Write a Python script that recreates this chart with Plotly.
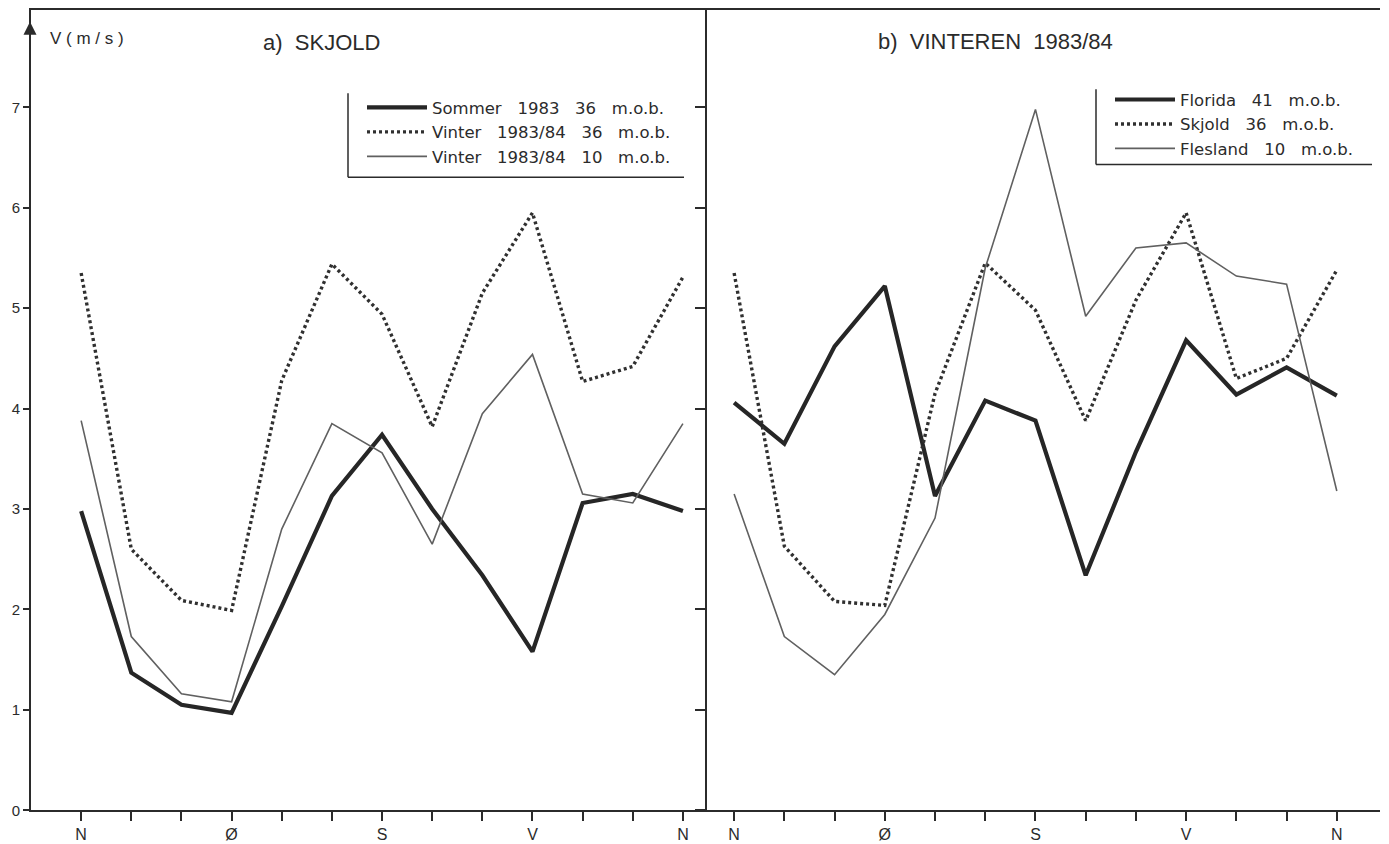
import plotly.graph_objects as go

# ---------------- data ----------------
directions = ["N", "", "", "Ø", "", "", "S", "", "", "V", "", "", "N"]
y_ticks = [0, 1, 2, 3, 4, 5, 6, 7]

# a) SKJOLD
sommer_1983_36 = [2.98, 1.37, 1.05, 0.97, 2.03, 3.13, 3.74, 3.00, 2.34, 1.58, 3.06, 3.15, 2.98]
vinter_8384_36 = [5.35, 2.60, 2.09, 1.99, 4.28, 5.44, 4.94, 3.82, 5.15, 5.95, 4.27, 4.42, 5.31]
vinter_8384_10 = [3.88, 1.73, 1.16, 1.08, 2.80, 3.85, 3.56, 2.65, 3.95, 4.54, 3.15, 3.06, 3.85]

# b) VINTEREN 1983/84
florida_41 = [4.06, 3.65, 4.62, 5.22, 3.13, 4.08, 3.88, 2.34, 3.57, 4.68, 4.14, 4.41, 4.13]
skjold_36 = [5.35, 2.63, 2.08, 2.04, 4.15, 5.45, 4.98, 3.88, 5.08, 5.95, 4.30, 4.50, 5.38]
flesland_10 = [3.15, 1.73, 1.35, 1.95, 2.91, 5.40, 6.98, 4.92, 5.60, 5.65, 5.32, 5.24, 3.18]

# page is 1389x844; the browser body adds an 8px margin left/top of the figure
PAGE_W, PAGE_H, BODY = 1389, 844, 8
W, H = PAGE_W - 2 * BODY, PAGE_H - BODY


def px(x):
    return (x - BODY) / W


def py(y):
    return 1 - (y - BODY) / H


FONT = "Liberation Sans"
LFONT = "DejaVu Sans"
INK = "#2b2b2b"
xpos = list(range(len(directions)))
SP = "&nbsp;&nbsp; "

thick = dict(color="#262626", width=4.2)
dotted = dict(color="#303030", width=3.4, dash="3px,3px")
thin = dict(color="#606060", width=1.6)

fig = go.Figure()
fig.add_trace(go.Scatter(x=xpos, y=sommer_1983_36, mode="lines", line=thick,
                         name=f"Sommer{SP}1983{SP}36{SP}m.o.b.", xaxis="x", yaxis="y", legend="legend"))
fig.add_trace(go.Scatter(x=xpos, y=vinter_8384_36, mode="lines", line=dotted,
                         name=f"Vinter{SP}1983/84{SP}36{SP}m.o.b.", xaxis="x", yaxis="y", legend="legend"))
fig.add_trace(go.Scatter(x=xpos, y=vinter_8384_10, mode="lines", line=thin,
                         name=f"Vinter{SP}1983/84{SP}10{SP}m.o.b.", xaxis="x", yaxis="y", legend="legend"))

fig.add_trace(go.Scatter(x=xpos, y=florida_41, mode="lines", line=thick,
                         name=f"Florida{SP}41{SP}m.o.b.", xaxis="x2", yaxis="y2", legend="legend2"))
fig.add_trace(go.Scatter(x=xpos, y=skjold_36, mode="lines", line=dotted,
                         name=f"Skjold{SP}36{SP}m.o.b.", xaxis="x2", yaxis="y2", legend="legend2"))
fig.add_trace(go.Scatter(x=xpos, y=flesland_10, mode="lines", line=thin,
                         name=f"Flesland{SP}10{SP}m.o.b.", xaxis="x2", yaxis="y2", legend="legend2"))

xtickfont = dict(family=FONT, size=16, color=INK)
ytickfont = dict(family=FONT, size=15, color=INK)
common_x = dict(tickmode="array", tickvals=xpos, ticktext=directions, ticks="outside",
                ticklen=9, tickwidth=1.5, tickcolor=INK, showline=True, linewidth=2,
                linecolor=INK, mirror=True, showgrid=False, zeroline=False,
                tickfont=xtickfont, fixedrange=True)
ydom = [py(818), py(10)]

fig.update_layout(
    width=W, height=H,
    margin=dict(l=0, r=0, t=0, b=0),
    paper_bgcolor="white", plot_bgcolor="white",
    xaxis=dict(domain=[px(31), px(707)], range=[-1, 12.48], anchor="y", **common_x),
    yaxis=dict(domain=ydom, range=[0, 7.97], anchor="x", tickvals=y_ticks,
               ticks="outside", ticklen=6, tickwidth=1.5, tickcolor=INK,
               showline=True, linewidth=2, linecolor=INK, showgrid=False,
               zeroline=False, tickfont=ytickfont),
    xaxis2=dict(domain=[px(707), px(1380)], range=[-0.54, 12.86], anchor="y2", **common_x),
    yaxis2=dict(domain=ydom, range=[0, 7.97], anchor="x2", tickvals=y_ticks,
                ticks="outside", ticklen=10, tickwidth=1.5, tickcolor=INK,
                showline=True, linewidth=2, linecolor=INK, showgrid=False,
                zeroline=False, showticklabels=False),
    yaxis3=dict(domain=ydom, range=[0, 7.97], anchor="x2", overlaying="y2", side="right",
                tickvals=y_ticks[1:], ticks="inside", ticklen=10, tickwidth=1.5,
                tickcolor=INK, showline=True, linewidth=2, linecolor=INK,
                showgrid=False, zeroline=False, showticklabels=False),
    legend=dict(x=px(362), y=py(91), xanchor="left", yanchor="top",
                bgcolor="rgba(0,0,0,0)", borderwidth=0, itemwidth=60,
                font=dict(family=LFONT, size=16.5, color=INK), tracegroupgap=0),
    legend2=dict(x=px(1110), y=py(83), xanchor="left", yanchor="top",
                 bgcolor="rgba(0,0,0,0)", borderwidth=0, itemwidth=60,
                 font=dict(family=LFONT, size=16.5, color=INK), tracegroupgap=0),
    showlegend=True,
)

line_style = dict(color=INK, width=1.5)
shapes = [
    dict(type="line", xref="paper", yref="paper", x0=px(348), x1=px(348), y0=py(94), y1=py(179), line=line_style),
    dict(type="line", xref="paper", yref="paper", x0=px(348), x1=px(684), y0=py(179), y1=py(179), line=line_style),
    dict(type="line", xref="paper", yref="paper", x0=px(1096), x1=px(1096), y0=py(90), y1=py(166), line=line_style),
    dict(type="line", xref="paper", yref="paper", x0=px(1096), x1=px(1372), y0=py(166), y1=py(166), line=line_style),
]
fig.update_layout(shapes=shapes)

fig.add_annotation(x=px(87), y=py(39), xref="paper", yref="paper", text="V ( m / s )",
                   showarrow=False, xanchor="center", yanchor="middle",
                   font=dict(family=FONT, size=17, color=INK))
fig.add_annotation(x=px(321), y=py(43), xref="paper", yref="paper", text="a)&nbsp; SKJOLD",
                   showarrow=False, xanchor="center", yanchor="middle",
                   font=dict(family=FONT, size=22, color=INK))
fig.add_annotation(x=px(995), y=py(42), xref="paper", yref="paper", text="b)&nbsp; VINTEREN&nbsp; 1983/84",
                   showarrow=False, xanchor="center", yanchor="middle",
                   font=dict(family=FONT, size=22, color=INK))
# arrow at the top of the left value axis
fig.add_annotation(x=px(30), y=py(22), xref="paper", yref="paper", text="", showarrow=True,
                   ax=0, ay=28, arrowhead=2, arrowsize=1.3, arrowwidth=2, arrowcolor=INK)

fig.write_html("out.html")
